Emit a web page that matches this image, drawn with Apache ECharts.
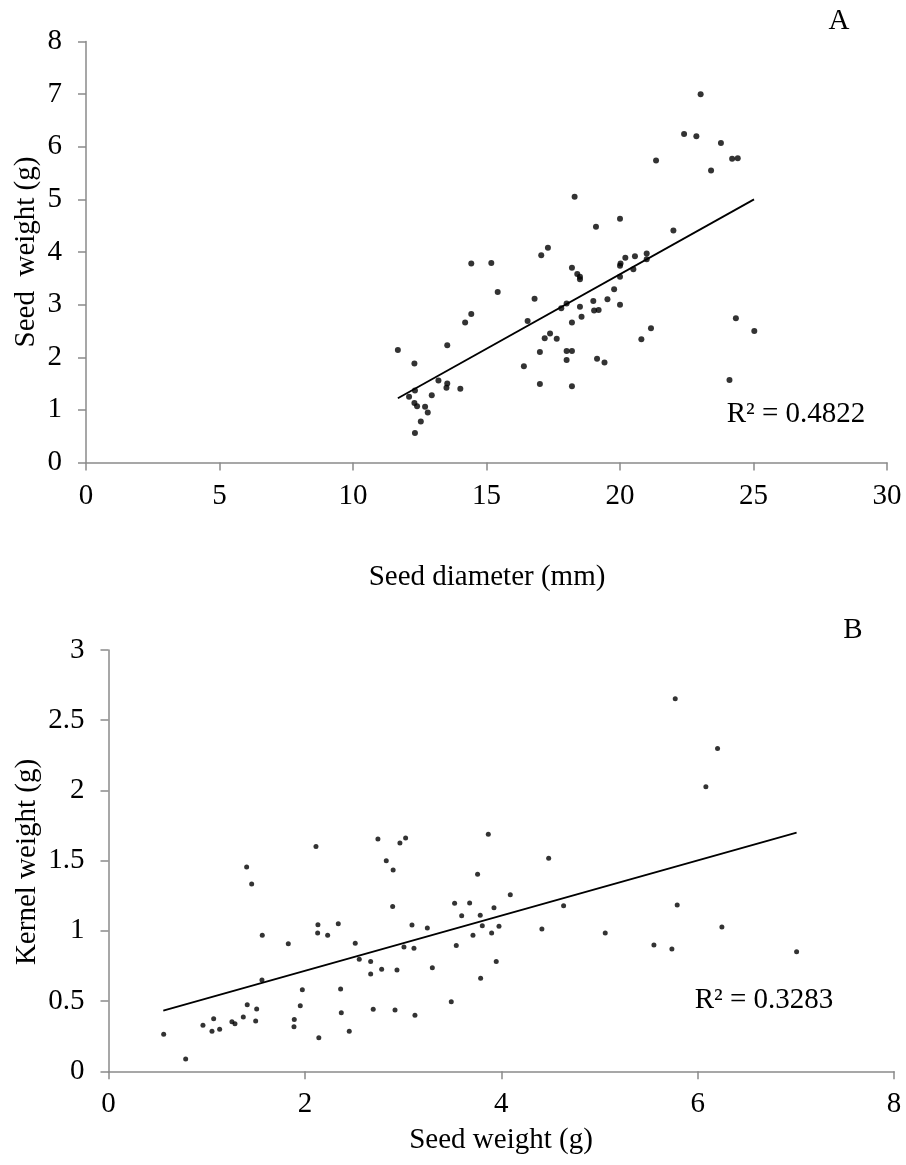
<!DOCTYPE html>
<html>
<head>
<meta charset="utf-8">
<script src="https://cdn.jsdelivr.net/npm/echarts@6/dist/echarts.min.js"></script>
<style>
html,body{margin:0;padding:0;background:#fff;}
#c{width:906px;height:1165px;}
</style>
</head>
<body>
<div id="c"></div>
<script>
// ---- Panel A: seed diameter (mm) vs seed weight (g)
var diamA = [11.68,12.3,12.32,12.1,12.3,12.4,12.54,12.32,12.7,12.8,12.95,13.2,13.53,13.5,13.53,14.02,14.2,14.43,14.43,15.18,15.42,16.4,16.54,16.8,17.0,17.0,17.05,17.18,17.38,17.63,17.8,18.0,18.0,18.0,18.2,18.2,18.2,18.2,18.4,18.5,18.5,18.5,18.56,19.0,19.03,19.2,19.14,19.42,19.53,19.78,20.0,20.0,20.0,20.02,20.2,20.56,20.5,20.8,21.0,21.0,21.16,24.1,24.34,25.03,23.02,22.4,22.86,23.78,21.35,23.41,24.2,24.41,18.3,20.0,19.1,22.0,17.3];
var weightA = [2.14,1.88,1.37,1.25,1.13,1.07,0.78,0.56,1.06,0.95,1.28,1.56,1.50,1.42,2.23,1.40,2.66,2.82,3.78,3.79,3.24,1.83,2.69,3.11,1.49,2.10,3.94,2.36,2.45,2.35,2.93,3.02,2.12,1.95,2.12,1.45,2.66,3.70,3.58,3.53,3.48,2.96,2.77,3.07,2.89,2.90,1.97,1.90,3.10,3.29,3.00,3.53,3.74,3.78,3.89,3.92,3.67,2.34,3.97,3.86,2.55,1.57,2.74,2.50,7.0,6.24,6.20,6.07,5.74,5.55,5.77,5.78,5.05,4.63,4.48,4.41,4.08];
var trendAx = [11.68, 25.02];
var trendAy = [1.22, 5.0];
var xTicksA = [0, 30, 5];
var yTicksA = [0, 8, 1];

// ---- Panel B: seed weight (g) vs kernel weight (g)
var seedB = [0.562,0.786,0.962,1.054,1.071,1.132,1.257,1.288,1.373,1.413,1.407,1.458,1.509,1.499,1.566,1.563,1.831,1.892,1.889,1.953,1.974,2.113,2.133,2.130,2.142,2.232,2.340,2.364,2.371,2.452,2.513,2.554,2.670,2.670,2.782,2.696,2.918,2.938,2.894,2.744,2.829,2.899,
  2.968,3.026,3.091,3.247,3.009,3.111,3.298,3.121,3.491,3.525,3.597,3.542,3.678,3.712,3.759,3.786,3.807,3.790,3.868,3.926,3.902,3.977,3.949,4.092,4.414,4.483,4.635,5.059,
  5.772,6.203,6.084,5.792,5.555,5.738,6.247,7.008];
var kernelB = [0.264,0.088,0.328,0.285,0.375,0.299,0.353,0.339,0.387,0.474,1.455,1.334,0.444,0.358,0.969,0.650,0.909,0.368,0.318,0.467,0.581,1.600,1.044,0.985,0.239,0.969,1.051,0.586,0.417,0.285,0.912,0.798,0.781,0.693,0.726,0.442,0.437,0.722,1.173,1.655,1.500,1.434,
  1.626,1.662,1.042,1.021,0.885,0.876,0.738,0.399,0.496,1.197,1.108,0.895,1.199,0.969,1.403,1.111,1.037,0.662,1.688,1.165,0.985,1.033,0.781,1.258,1.014,1.517,1.179,0.985,
  2.652,2.298,2.027,1.184,0.900,0.871,1.028,0.852];
var trendBx = [0.558, 7.008];
var trendBy = [0.432, 1.70];
var xTicksB = [0, 8, 2];
var yTicksB = [0, 3, 0.5];

var labels = {
  xA: 'Seed diameter (mm)', yA: 'Seed  weight (g)', rA: 'R² = 0.4822', pA: 'A',
  xB: 'Seed weight (g)', yB: 'Kernel weight (g)', rB: 'R² = 0.3283', pB: 'B'
};

function zip(a, b){ return a.map(function(v,i){ return [v, b[i]]; }); }

var FONT = 'Liberation Serif';
var FS = 29;
var axisGray = '#8a8a8a';

function xAxisCfg(t, idx){
  return {
    type:'value', gridIndex: idx, min:t[0], max:t[1], interval:t[2],
    splitLine:{show:false},
    axisLine:{show:true, onZero:false, lineStyle:{color:axisGray, width:1.5}},
    axisTick:{show:true, inside:false, length:8, lineStyle:{color:axisGray, width:1.5}},
    axisLabel:{color:'#000', fontFamily:FONT, fontSize:FS, margin:19}
  };
}
function yAxisCfg(t, idx){
  return {
    type:'value', gridIndex: idx, min:t[0], max:t[1], interval:t[2],
    splitLine:{show:false},
    axisLine:{show:true, onZero:false, lineStyle:{color:axisGray, width:1.5}},
    axisTick:{show:true, inside:false, length:8, lineStyle:{color:axisGray, width:1.5}},
    axisLabel:{color:'#000', fontFamily:FONT, fontSize:FS, margin:24}
  };
}
function txt(text, x, y, rot){
  return {
    type:'text', x:x, y:y, rotation: rot || 0,
    style:{text:text, x:0, y:0, align:'center', verticalAlign:'middle', fill:'#000', font: FS + 'px "' + FONT + '"'}
  };
}

var chart = echarts.init(document.getElementById('c'), null, {renderer:'canvas'});
chart.setOption({
  animation:false,
  backgroundColor:'#fff',
  grid:[
    {left:86, top:41.5, width:801, height:421},
    {left:108.5, top:650, width:785.5, height:421.3}
  ],
  xAxis:[xAxisCfg(xTicksA,0), xAxisCfg(xTicksB,1)],
  yAxis:[yAxisCfg(yTicksA,0), yAxisCfg(yTicksB,1)],
  series:[
    {type:'scatter', xAxisIndex:0, yAxisIndex:0, data: zip(diamA, weightA), symbolSize:6, itemStyle:{color:'#000'}, z:3},
    {type:'line', xAxisIndex:0, yAxisIndex:0, data: zip(trendAx, trendAy), showSymbol:false, symbol:'none', lineStyle:{color:'#000', width:1.8}, z:2},
    {type:'scatter', xAxisIndex:1, yAxisIndex:1, data: zip(seedB, kernelB), symbolSize:5, itemStyle:{color:'#000'}, z:3},
    {type:'line', xAxisIndex:1, yAxisIndex:1, data: zip(trendBx, trendBy), showSymbol:false, symbol:'none', lineStyle:{color:'#000', width:1.8}, z:2}
  ],
  graphic:[
    txt(labels.pA, 839, 21),
    txt(labels.rA, 796, 414),
    txt(labels.xA, 487, 577),
    txt(labels.yA, 26, 252, Math.PI/2),
    txt(labels.pB, 853, 630),
    txt(labels.rB, 764, 1000),
    txt(labels.xB, 501, 1140),
    txt(labels.yB, 27, 862, Math.PI/2)
  ]
});
</script>
</body>
</html>
